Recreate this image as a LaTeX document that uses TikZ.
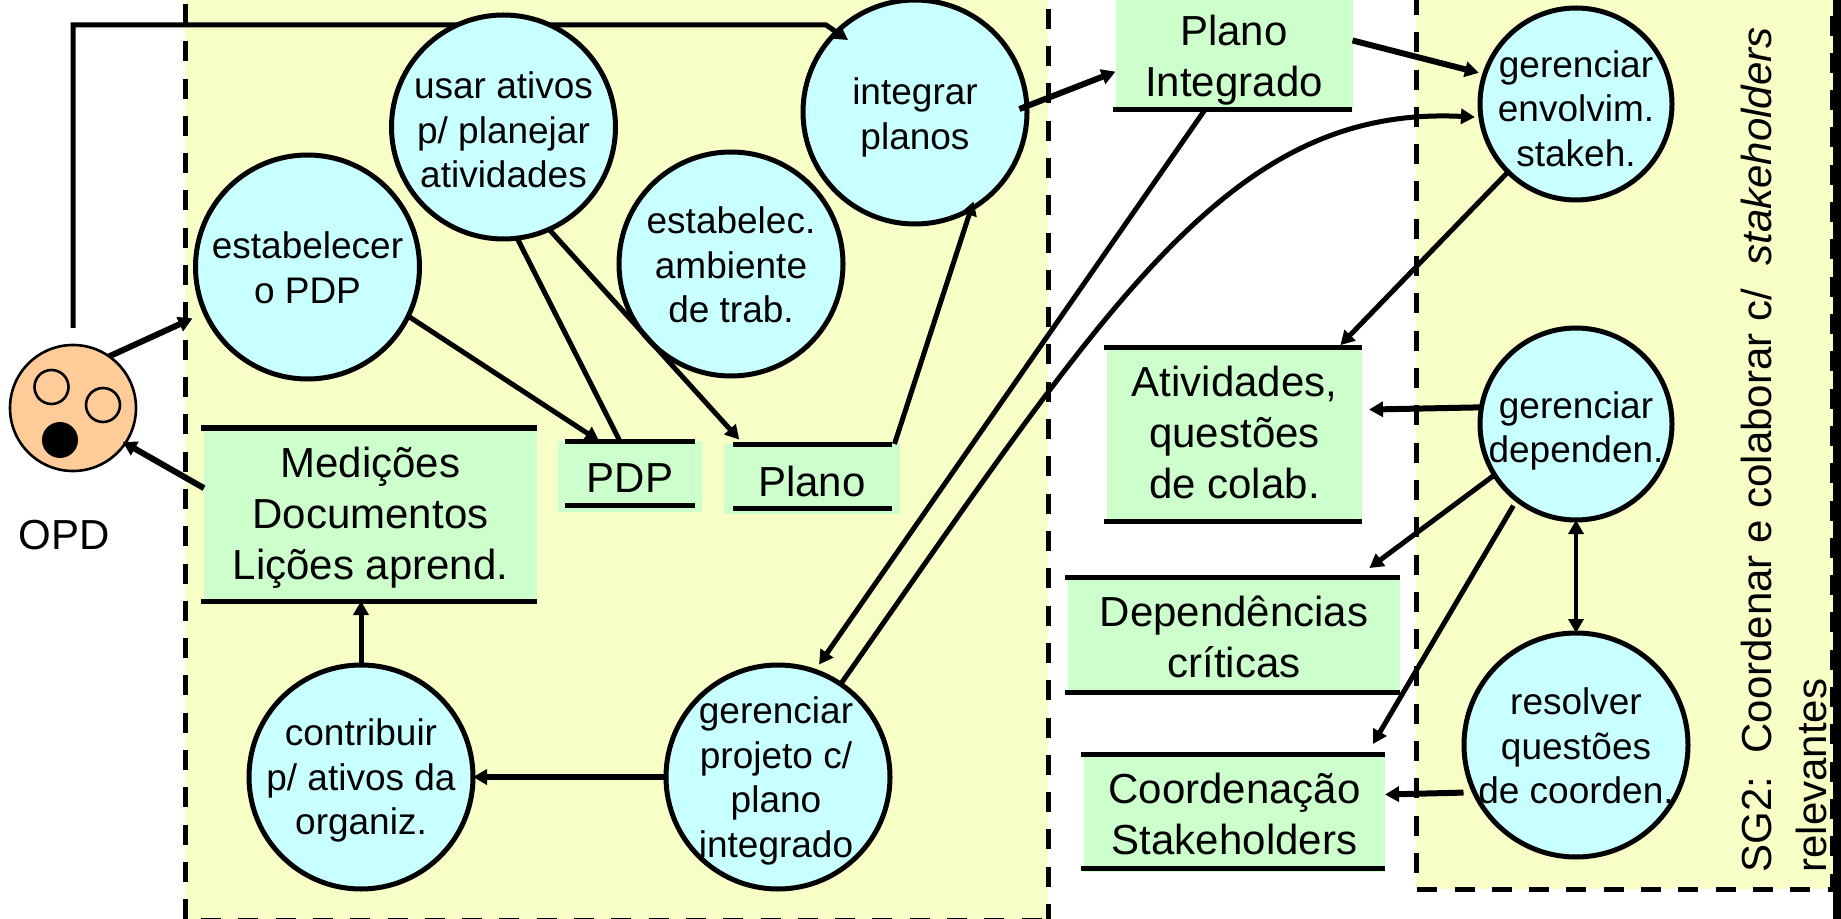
\documentclass[tikz,border=0pt]{standalone}
\usepackage{fontspec}
\setmainfont{Liberation Sans}
\usetikzlibrary{arrows.meta,calc}
\definecolor{paleyellow}{HTML}{F8FFC6}
\definecolor{palegreen}{HTML}{CCFFCC}
\definecolor{palecyan}{HTML}{C8FFFF}
\definecolor{faceorange}{HTML}{FFCC99}
\pgfdeclarelayer{bg}
\pgfdeclarelayer{under}
\pgfsetlayers{bg,under,main}
\tikzset{
  x=0.5pt,y=-0.5pt,
  big/.style={circle,draw=black,line width=2.5pt,fill=palecyan,inner sep=0pt,outer sep=0pt,minimum size=112pt},
  small/.style={big,minimum size=96pt},
  ptext/.style={align=center,inner sep=0pt,font=\fontsize{18.5}{22.25}\selectfont},
  store/.style={rectangle,fill=palegreen,inner sep=0pt,outer sep=0pt},
  stext/.style={align=center,inner sep=0pt,font=\fontsize{21}{25.5}\selectfont},
  rule/.style={line width=2.5pt,black},
  frame/.style={line width=2.5pt,black,dash pattern=on 10pt off 8.65pt},
  tip/.style={-{Triangle[length=7pt,width=7.5pt]}},
  thin arrow/.style={tip,line width=2.5pt},
  thick arrow/.style={tip,line width=3pt},
}
\begin{document}
\begin{tikzpicture}
\useasboundingbox (0,0) rectangle (1841,919);
\begin{pgfonlayer}{bg}
  % yellow regions and dashed frames
  \fill[paleyellow] (185,0) rectangle (1048,919);
  \fill[paleyellow] (1416,0) rectangle (1833,889);
  \fill[black] (1833,0) rectangle (1841,919);
  \draw[frame] (185,4) -- (185,920.5) -- (1048,920.5);
  \draw[frame] (1048,924) -- (1048,0);
  \draw[frame] (1416,-5) -- (1416,889) -- (1832,889) -- (1832,0);
  % stores
  \node[store,minimum width=166.5pt,minimum height=86.5pt,label={[stext,yshift=-1.7pt]center:{Medições\\Documentos\\Lições aprend.}}] (med) at (370.5,514.5) {};
  \draw[rule] (201,428) -- (537,428);
  \draw[rule] (201,601) -- (537,601);
  \node[store,minimum width=72pt,minimum height=35.5pt,label={[stext,yshift=-0.6pt]center:{PDP}}] (pdp) at (630,476.5) {};
  \draw[rule] (565,441) -- (695,441);
  \draw[rule] (565,505) -- (695,505);
  \node[store,minimum width=88pt,minimum height=35pt,label={[stext,yshift=-1.2pt]center:{Plano}}] (plano) at (812,479) {};
  \draw[rule] (733,444) -- (892,444);
  \draw[rule] (733,508) -- (892,508);
  \node[store,minimum width=118.5pt,minimum height=55pt,label={[stext,yshift=-2.6pt]center:{Plano\\Integrado}}] (pint) at (1234,55) {};
  \draw[rule] (1113,110) -- (1352,110);
  \node[store,minimum width=127.5pt,minimum height=86.5pt,label={[stext,yshift=1.2pt]center:{Atividades,\\questões\\de colab.}}] (ativ) at (1234.5,434.5) {};
  \draw[rule] (1104,348) -- (1362,348);
  \draw[rule] (1104,521) -- (1362,521);
  \node[store,minimum width=166pt,minimum height=57.5pt,label={[stext,yshift=-1.2pt]center:{Dependências\\críticas}}] (dep) at (1234,634.5) {};
  \draw[rule] (1065,577) -- (1400,577);
  \draw[rule] (1065,692) -- (1400,692);
  \node[store,minimum width=150.5pt,minimum height=59pt,label={[stext,yshift=-0.6pt]center:{Coordenação\\Stakeholders}}] (coord) at (1234.5,813) {};
  \draw[rule] (1081,754) -- (1385,754);
  \draw[rule] (1081,868) -- (1385,868);
  % face
  \node[circle,draw=black,line width=1.3pt,fill=faceorange,inner sep=0pt,outer sep=0pt,minimum size=63pt] (face) at (73,408) {};
  \node[circle,draw=black,line width=1.3pt,inner sep=0pt,minimum size=17pt] (eyea) at (51.5,387) {};
  \node[circle,draw=black,line width=1.3pt,inner sep=0pt,minimum size=17pt] (eyeb) at (103,405) {};
  \node[circle,fill=black,inner sep=0pt,minimum size=18pt] (mouth) at (60,440) {};
  \node[stext] (opd) at (64.5,535) {OPD};
  % processes
  \node[big,label={[ptext,yshift=-0.3pt]center:{estabelecer\\o PDP}}] (estab) at (307.5,267) {};
  \node[big,label={[ptext,yshift=-0.6pt]center:{estabelec.\\ambiente\\de trab.}}] (amb) at (731,264) {};
  \node[big,label={[ptext,yshift=-2.6pt]center:{integrar\\planos}}] (integ) at (915,112) {};
  \node[small,label={[ptext,yshift=-2.3pt]center:{gerenciar\\envolvim.\\stakeh.}}] (env) at (1576,104) {};
  \node[small,label={[ptext,yshift=-3.5pt]center:{gerenciar\\dependen.}}] (gdep) at (1576,424) {};
  \node[big,label={[ptext,yshift=-0.6pt]center:{resolver\\questões\\de coorden.}}] (res) at (1576,745) {};
  \node[big,label={[ptext,yshift=-1.8pt]center:{contribuir\\p/ ativos da\\organiz.}}] (contr) at (361,777) {};
  \node[big,label={[ptext,yshift=-2pt,xshift=-1pt]center:{gerenciar\\projeto c/\\plano\\integrado}}] (proj) at (778,777) {};
\end{pgfonlayer}
% the process that hides the connectors passing behind it
\node[big,label={[ptext,yshift=-1.5pt]center:{usar ativos\\p/ planejar\\atividades}}] (usar) at (503.5,127) {};
\coordinate (lstart) at (73,328);
\coordinate (lturna) at (73,25);
\coordinate (lturnb) at (826,25);
\coordinate (ltip) at (848,40);
\begin{pgfonlayer}{under}
  \draw[thin arrow] (lstart) -- (lturna) -- (lturnb) -- (ltip);
  \draw[thin arrow,shorten >=-8pt] (pdp.106.6) -- (usar.-83.7);
\end{pgfonlayer}
% connectors
\draw[thick arrow,shorten >=7pt] (face.55) -- (estab.204.5);
\draw[thick arrow,shorten >=-1.5pt] (med.171.3) -- (face.-34);
\draw[thin arrow] (estab.-26.9) -- (pdp.131.1);
\draw[thin arrow,shorten >=3pt] (usar.-66.8) -- (plano.153.8);
\draw[thin arrow,shorten >=-4pt] (plano.23.6) -- (integ.-60.9);
\draw[thick arrow,shorten <=-4pt] (integ.3.9) -- (pint.188.6);
\draw[thick arrow,shorten >=3pt] (pint.7.2) -- (env.162.8);
\draw[thin arrow,shorten >=4pt] (pint.-118.3) -- (proj.71);
\draw[thin arrow,shorten >=3pt] (proj.56.7) .. controls (1110,300) and (1230,105) .. (env.188);
\draw[thin arrow,shorten >=2pt] (env.225) -- (ativ.40.4);
\draw[thick arrow,shorten >=3.5pt] (gdep.170.5) -- (ativ.11.7);
\draw[thin arrow,shorten >=7.5pt] (gdep.212.2) -- (dep.25);
\draw[thin arrow,shorten <=3.5pt,shorten >=5.8pt] (gdep.232.1) -- (coord.24.7);
\draw[{Triangle[length=7pt,width=7.5pt]}-{Triangle[length=7pt,width=7.5pt]},line width=2.2pt] (gdep.south) -- (res.north);
\draw[thick arrow,shorten <=5.5pt] (res.205.7) -- (coord.7.6);
\draw[thin arrow] (contr.north) -- (contr.north |- med.south);
\draw[thick arrow] (proj.west) -- (contr.east);
% side label
\node[rotate=90,anchor=west,align=left,inner sep=0pt,font=\fontsize{21}{27.5}\selectfont] (sg) at (1784,873) {SG2:\ \ Coordenar e colaborar c/\ \ \textit{stakeholders}\\relevantes};
\end{tikzpicture}
\end{document}
